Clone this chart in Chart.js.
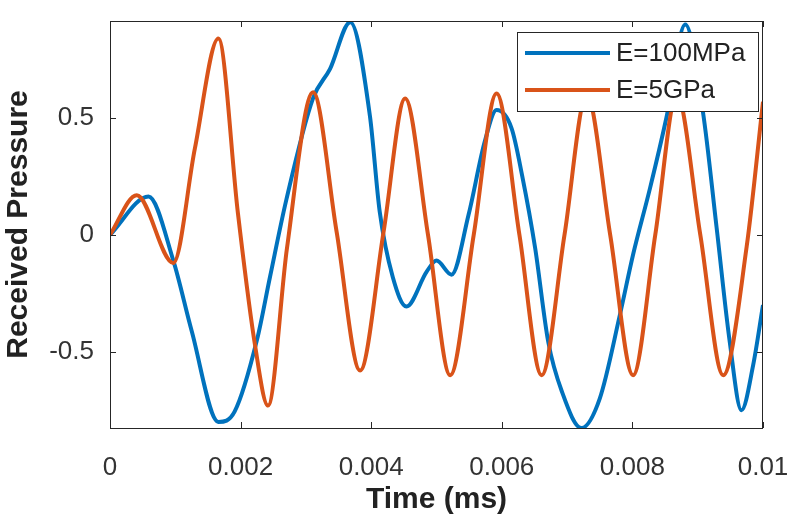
<!DOCTYPE html>
<html>
<head>
<meta charset="utf-8">
<script src="https://cdn.jsdelivr.net/npm/chart.js@4.4.1/dist/chart.umd.min.js"></script>
<style>
  html, body { margin: 0; padding: 0; background: #fff; }
  #wrap { width: 800px; height: 528px; }
</style>
</head>
<body>
<div id="wrap"><canvas id="pressureChart" width="800" height="528"></canvas></div>
<script>
  // values (time in ms, normalised pressure)
  var seriesNames = ["E=100MPa", "E=5GPa"];

  var softTime = [0, 0.00059, 0.00097, 0.00125, 0.00166, 0.00191, 0.00225, 0.00245, 0.0027,
    0.00311, 0.00337, 0.00368, 0.00398, 0.00413, 0.00433, 0.00454, 0.00485, 0.005, 0.00523,
    0.00549, 0.00574, 0.00592, 0.00615, 0.00631, 0.00651, 0.00671, 0.00692, 0.00722, 0.0075,
    0.00781, 0.00801, 0.00827, 0.00852, 0.00881, 0.00908, 0.00929, 0.00949, 0.00967, 0.00985, 0.01];
  var softPressure = [0, 0.164, -0.11, -0.41, -0.8, -0.755, -0.45, -0.18, 0.15,
    0.585, 0.71, 0.91, 0.51, 0.1, -0.18, -0.306, -0.157, -0.11, -0.17,
    0.085, 0.4, 0.534, 0.456, 0.256, -0.055, -0.456, -0.67, -0.826, -0.7,
    -0.34, -0.085, 0.2, 0.5, 0.9, 0.527, 0.03, -0.456, -0.75, -0.556, -0.3];

  var stiffTime = [0, 0.00041, 0.00097, 0.0013, 0.00166, 0.00196, 0.00222, 0.00242, 0.00271,
    0.00311, 0.00347, 0.00383, 0.00419, 0.00452, 0.00487, 0.00521, 0.00557, 0.00592, 0.00627,
    0.00661, 0.00696, 0.0073, 0.00766, 0.00801, 0.00835, 0.00868, 0.00904, 0.00939, 0.00975, 0.01];
  var stiffPressure = [0, 0.17, -0.12, 0.37, 0.84, 0.09, -0.47, -0.73, -0.057,
    0.61, 0.014, -0.58, 0.014, 0.584, 0, -0.6, 0, 0.605, 0,
    -0.6, 0, 0.6, 0, -0.6, 0, 0.6, 0, -0.6, -0.05, 0.57];

  var timeTicks = [0, 0.002, 0.004, 0.006, 0.008, 0.01];
  var pressureTicks = [-0.5, 0, 0.5];
  var pressureRange = [-0.826, 0.915];

  var fontFamily = "'Liberation Sans', Arial, sans-serif";

  function toPoints(xs, ys) {
    return xs.map(function (x, i) { return { x: x, y: ys[i] }; });
  }

  // MATLAB-like box, inward ticks and legend inside the axes
  var matlabAxes = {
    id: "matlabAxes",
    afterDatasetsDraw: function (chart) {
      var c = chart.ctx, a = chart.chartArea;
      var xs = chart.scales.x, ys = chart.scales.y;
      var tl = 6;
      c.save();
      c.strokeStyle = "#262626";
      c.lineWidth = 1;
      c.beginPath();
      timeTicks.forEach(function (v) {
        var px = Math.round(xs.getPixelForValue(v)) + 0.5;
        c.moveTo(px, a.bottom); c.lineTo(px, a.bottom - tl);
        c.moveTo(px, a.top); c.lineTo(px, a.top + tl);
      });
      pressureTicks.forEach(function (v) {
        var py = Math.round(ys.getPixelForValue(v)) + 0.5;
        c.moveTo(a.left, py); c.lineTo(a.left + tl, py);
        c.moveTo(a.right, py); c.lineTo(a.right - tl, py);
      });
      c.stroke();
      c.strokeRect(a.left + 0.5, a.top + 0.5, a.right - a.left - 1, a.bottom - a.top);

      // legend
      var lx = a.right - 246, ly = a.top + 11, lw = 241, lh = 79;
      c.fillStyle = "#fff";
      c.fillRect(lx, ly, lw, lh);
      c.strokeRect(lx + 0.5, ly + 0.5, lw, lh);
      c.font = "26px " + fontFamily;
      c.textBaseline = "middle";
      chart.data.datasets.forEach(function (ds, i) {
        var yy = ly + 21 + i * 37;
        c.strokeStyle = ds.borderColor;
        c.lineWidth = 4;
        c.beginPath();
        c.moveTo(lx + 8, yy); c.lineTo(lx + 93, yy);
        c.stroke();
        c.fillStyle = "#222";
        c.fillText(ds.label, lx + 99, yy + 1);
      });
      c.restore();
    }
  };

  try {
    var ctx = document.getElementById("pressureChart");
    if (ctx) {
      var myChart = new Chart(ctx, {
        type: "line",
        data: {
          datasets: [
            {
              label: seriesNames[0],
              data: toPoints(softTime, softPressure),
              borderColor: "#0072BD",
              borderWidth: 4,
              pointRadius: 0,
              cubicInterpolationMode: "monotone",
              order: 2,
            },
            {
              label: seriesNames[1],
              data: toPoints(stiffTime, stiffPressure),
              borderColor: "#D95319",
              borderWidth: 4,
              pointRadius: 0,
              cubicInterpolationMode: "monotone",
              order: 1,
            },
          ],
        },
        options: {
          responsive: false,
          animation: false,
          layout: { padding: { top: 21, right: 37, left: 0, bottom: 0 } },
          plugins: {
            legend: { display: false },
            tooltip: { enabled: false },
          },
          scales: {
            x: {
              type: "linear",
              min: 0,
              max: 0.01,
              afterBuildTicks: function (scale) {
                scale.ticks = timeTicks.map(function (v) { return { value: v }; });
              },
              afterFit: function (scale) {
                scale.height = 100;
                scale.paddingLeft = 0;
                scale.paddingRight = 0;
              },
              grid: { display: false },
              border: { display: false },
              ticks: {
                padding: 16,
                color: "#333",
                font: { family: fontFamily, size: 26 },
                callback: function (v) { return String(parseFloat(v.toFixed(4))); },
              },
              title: {
                display: true,
                text: "Time (ms)",
                color: "#222",
                font: { family: fontFamily, size: 30, weight: "bold" },
                padding: { top: 0, bottom: 10 },
              },
            },
            y: {
              min: pressureRange[0],
              max: pressureRange[1],
              afterBuildTicks: function (scale) {
                scale.ticks = pressureTicks.map(function (v) { return { value: v }; });
              },
              afterFit: function (scale) {
                scale.width = 110;
                scale.paddingTop = 0;
                scale.paddingBottom = 0;
              },
              grid: { display: false },
              border: { display: false },
              ticks: {
                padding: 8,
                color: "#333",
                font: { family: fontFamily, size: 26 },
              },
              title: {
                display: true,
                text: "Received Pressure",
                color: "#222",
                font: { family: fontFamily, size: 30, weight: "bold" },
                padding: { top: 1, bottom: 0 },
              },
            },
          },
        },
        plugins: [matlabAxes],
      });
    }
  } catch (error) {
    console.log(error);
  }
</script>
</body>
</html>
